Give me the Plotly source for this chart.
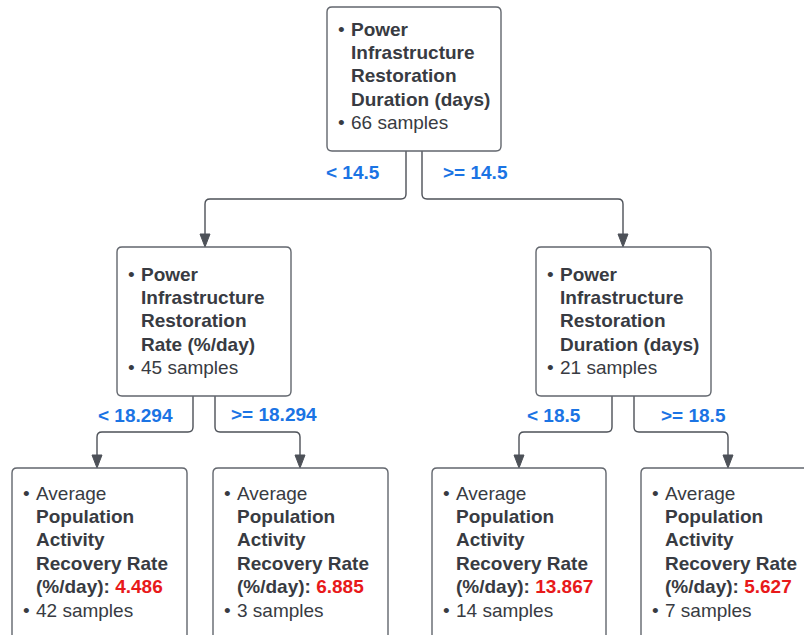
import plotly.graph_objects as go

# ---------------- data ----------------
split_features = [
    "Power Infrastructure Restoration Duration (days)",
    "Power Infrastructure Restoration Rate (%/day)",
    "Power Infrastructure Restoration Duration (days)",
]
split_samples = [66, 45, 21]
split_thresholds = [14.5, 18.294, 18.5]
leaf_values = [4.486, 6.885, 13.867, 5.627]
leaf_samples = [42, 3, 14, 7]
target_name = "Population Activity Recovery Rate (%/day)"

# ---------------- style ----------------
TEXT = "#383b42"
BORDER = "#62666d"
LINE = "#4d5158"
BLUE = "#1b74e4"
RED = "#e8191a"
FONT = "Liberation Sans, Arial, sans-serif"
FS = 19
LH = 23.4

W, H = 804, 635

# layout geometry (pixels)
split_boxes = [(327, 7, 501, 151), (117, 247, 291, 396), (536, 247, 711, 396)]
leaf_boxes = [(12, 468, 187, 660), (213, 468, 388, 660), (432, 468, 606, 660), (641, 468, 816, 660)]


def wrap(text, width=15):
    words, lines, cur = text.split(" "), [], ""
    for w in words:
        if cur and len(cur) + 1 + len(w) > width:
            lines.append(cur)
            cur = w
        else:
            cur = (cur + " " + w) if cur else w
    if cur:
        lines.append(cur)
    return lines


def rounded_rect(x0, y0, x1, y1, r=5):
    return (f"M{x0+r},{y0} L{x1-r},{y0} Q{x1},{y0} {x1},{y0+r} "
            f"L{x1},{y1-r} Q{x1},{y1} {x1-r},{y1} L{x0+r},{y1} "
            f"Q{x0},{y1} {x0},{y1-r} L{x0},{y0+r} Q{x0},{y0} {x0+r},{y0} Z")


def elbow(xs, ys, ym, xe, ye, r=5):
    d = 1 if xe > xs else -1
    return (f"M{xs},{ys} L{xs},{ym-r} Q{xs},{ym} {xs+d*r},{ym} "
            f"L{xe-d*r},{ym} Q{xe},{ym} {xe},{ym+r} L{xe},{ye}")


shapes = []
annotations = []


def add_text(x, y, text, color=TEXT, anchor="left"):
    annotations.append(dict(x=x, y=y, xref="x", yref="y", text=text, showarrow=False,
                            xanchor=anchor, yanchor="middle",
                            font=dict(family=FONT, size=FS, color=color)))


def add_box(box, lines, bullets, first_y):
    x0, y0, x1, y1 = box
    shapes.append(dict(type="path", path=rounded_rect(x0, y0, x1, y1), xref="x", yref="y",
                       line=dict(color=BORDER, width=1.4), fillcolor="white", layer="above"))
    for i, t in enumerate(lines):
        y = first_y + i * LH
        if i in bullets:
            add_text(x0 + 14, y, "•", anchor="center")
        add_text(x0 + 22, y, t)


def add_connector(xs, ys, ym, xe, ye):
    shapes.append(dict(type="path", path=elbow(xs, ys, ym, xe, ye - 12), xref="x", yref="y",
                       line=dict(color=LINE, width=1.4), layer="below"))
    shapes.append(dict(type="path",
                       path=f"M{xe-5},{ye-13} L{xe+5},{ye-13} L{xe},{ye} Z",
                       xref="x", yref="y", line=dict(color=LINE, width=1), fillcolor=LINE,
                       layer="below"))


# split nodes
split_first_y = [29, 274, 274]
for box, feat, n, fy in zip(split_boxes, split_features, split_samples, split_first_y):
    feat_lines = [f"<b>{l}</b>" for l in wrap(feat)]
    add_box(box, feat_lines + [f"{n} samples"], {0, len(feat_lines)}, fy)

# leaf nodes
tgt_lines = wrap(target_name)  # Population / Activity / Recovery Rate / (%/day):
for box, v, n in zip(leaf_boxes, leaf_values, leaf_samples):
    lines = ["Average"] + [f"<b>{l}</b>" for l in tgt_lines[:-1]]
    lines.append(f"<b>{tgt_lines[-1]}: <span style='color:{RED}'>{v:.3f}</span></b>")
    lines.append(f"{n} samples")
    add_box(box, lines, {0, len(lines) - 1}, 493)

# connectors: (parent box, child box, start x, child centre x, elbow y)
conn = [
    (split_boxes[0], split_boxes[1], 406, 205, 199),
    (split_boxes[0], split_boxes[2], 422, 623, 199),
    (split_boxes[1], leaf_boxes[0], 193, 97, 432),
    (split_boxes[1], leaf_boxes[1], 215, 300, 432),
    (split_boxes[2], leaf_boxes[2], 612, 519, 432),
    (split_boxes[2], leaf_boxes[3], 634, 728, 432),
]
for parent, child, xs, xe, ym in conn:
    add_connector(xs, parent[3], ym, xe, child[1])

# edge labels
edge_label_pos = [(353, 172), (475, 172), (135, 415), (274, 414), (554, 415), (693, 415)]
for k, thr in enumerate(split_thresholds):
    (lx, ly), (rx, ry) = edge_label_pos[2 * k], edge_label_pos[2 * k + 1]
    add_text(lx, ly, f"<b>&lt; {thr:g}</b>", color=BLUE, anchor="center")
    add_text(rx, ry, f"<b>&gt;= {thr:g}</b>", color=BLUE, anchor="center")

fig = go.Figure()
fig.update_layout(
    width=W, height=H,
    margin=dict(l=0, r=0, t=0, b=0),
    paper_bgcolor="white", plot_bgcolor="white",
    xaxis=dict(range=[0, W], visible=False, fixedrange=True),
    yaxis=dict(range=[H, 0], visible=False, fixedrange=True),
    shapes=shapes, annotations=annotations, showlegend=False,
)
fig.write_html("out.html", config={"displayModeBar": False},
               post_script="document.body.style.margin='0';document.body.style.overflow='hidden';")
